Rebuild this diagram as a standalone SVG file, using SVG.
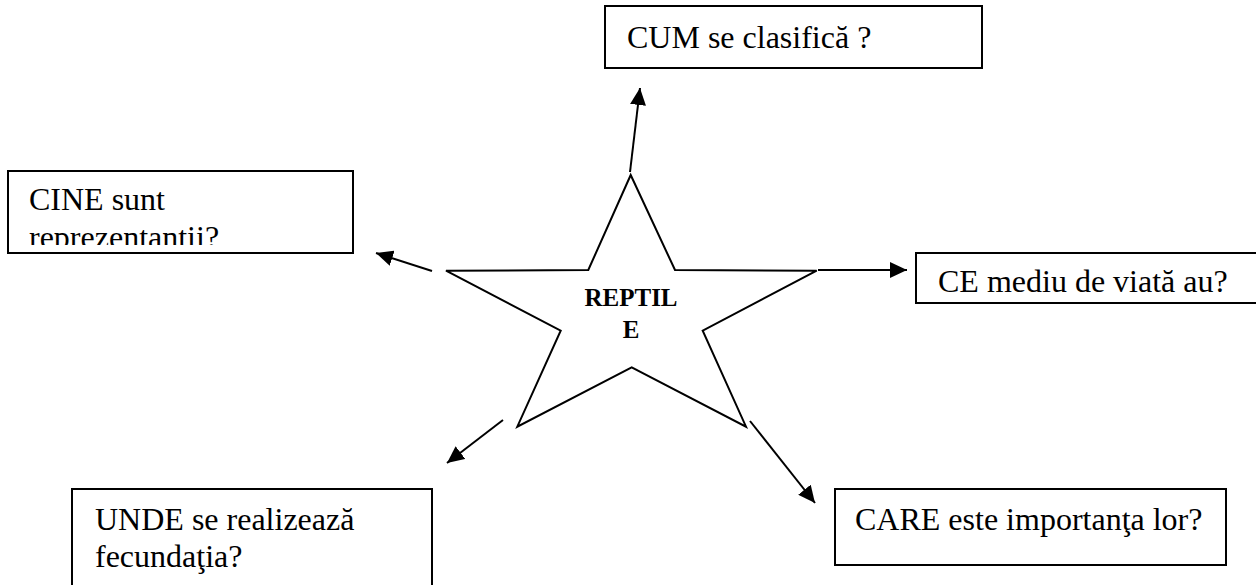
<svg xmlns="http://www.w3.org/2000/svg" width="1256" height="585" viewBox="0 0 1256 585">
  <style>
    .box { fill: #ffffff; stroke: #000000; stroke-width: 2; }
    .txt { font-family: "Liberation Serif", "Times New Roman", serif; font-size: 32px; fill: #000000; }
    .star { fill: #ffffff; stroke: #000000; stroke-width: 2; stroke-linejoin: miter; }
    .center { font-family: "Liberation Serif", "Times New Roman", serif; font-size: 25px; font-weight: bold; fill: #000000; text-anchor: middle; }
    .conn { stroke: #000000; stroke-width: 2; fill: none; marker-end: url(#arrow); }
  </style>
  <defs>
    <marker id="arrow" markerUnits="userSpaceOnUse" markerWidth="18" markerHeight="16" refX="17" refY="8" orient="auto">
      <path d="M0,0 L17,8 L0,16 z" fill="#000000"/>
    </marker>
    <clipPath id="clipCine">
      <rect x="8" y="171" width="345" height="74"/>
    </clipPath>
  </defs>
  <rect width="1256" height="585" fill="#ffffff"/>

  <g id="star">
    <polygon class="star" points="630.7,175 675,270 816.7,270.7 702.7,330.7 746,426.7 631.7,367.3 517.3,426.7 560.7,330.7 446,270.7 588.3,270"/>
    <text class="center" x="631" y="306">REPTIL</text>
    <text class="center" x="631" y="338">E</text>
  </g>

  <g id="connectors">
    <line class="conn" x1="630" y1="172" x2="640" y2="88"/>
    <line class="conn" x1="432" y1="271" x2="376" y2="253"/>
    <line class="conn" x1="818" y1="270" x2="907" y2="270"/>
    <line class="conn" x1="503" y1="420" x2="447" y2="463"/>
    <line class="conn" x1="750" y1="421" x2="815" y2="503"/>
  </g>

  <g id="node-cum">
    <rect class="box" x="605" y="6" width="377" height="62"/>
    <text class="txt" x="627" y="48">CUM se clasifică ?</text>
  </g>

  <g id="node-cine">
    <rect class="box" x="8" y="171" width="345" height="82"/>
    <text class="txt" x="29" y="210">CINE sunt</text>
    <text class="txt" x="29" y="248" clip-path="url(#clipCine)">reprezentantii?</text>
  </g>

  <g id="node-ce">
    <rect class="box" x="916" y="253" width="360" height="50"/>
    <text class="txt" x="938" y="292">CE mediu de viată au?</text>
  </g>

  <g id="node-unde">
    <rect class="box" x="72" y="489" width="360" height="110"/>
    <text class="txt" x="95" y="530">UNDE se realizează</text>
    <text class="txt" x="95" y="567">fecundaţia?</text>
  </g>

  <g id="node-care">
    <rect class="box" x="835" y="489" width="391" height="76"/>
    <text class="txt" x="855" y="530">CARE este importanţa lor?</text>
  </g>
</svg>
